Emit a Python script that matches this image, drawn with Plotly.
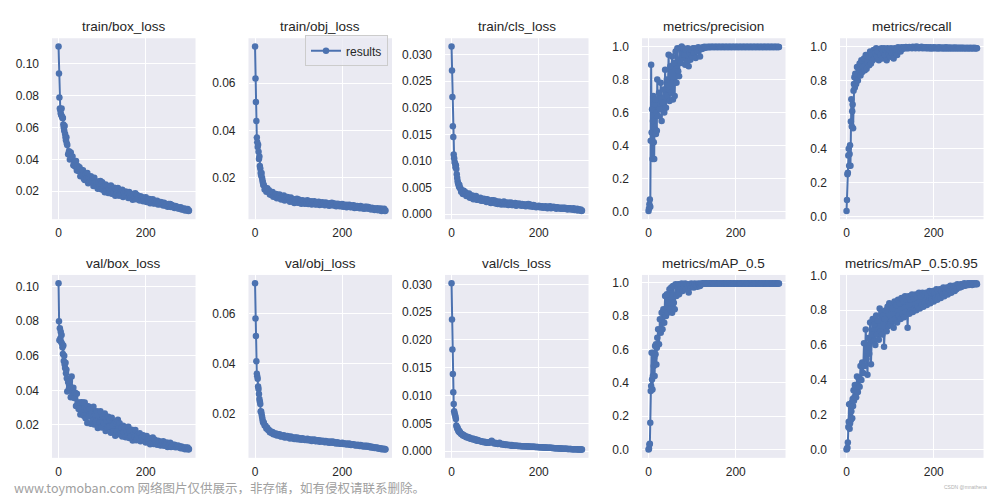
import plotly.graph_objects as go

# x values: training epochs (every epoch early, every 2nd epoch afterwards, plus the last one)
epochs = list(range(0, 20)) + list(range(20, 300, 2)) + [299]

titles = ["train/box_loss", "train/obj_loss", "train/cls_loss", "metrics/precision", "metrics/recall",
          "val/box_loss", "val/obj_loss", "val/cls_loss", "metrics/mAP_0.5", "metrics/mAP_0.5:0.95"]

train_box_loss = [
    0.111, 0.094, 0.079, 0.072, 0.071, 0.069, 0.068, 0.072, 0.067, 0.066, 0.066, 0.062, 0.060, 0.058, 0.061, 0.056, 0.054, 0.052, 0.054, 0.050,
    0.049, 0.0432, 0.0452, 0.040, 0.0444, 0.0404, 0.0418, 0.0363, 0.0386, 0.0355, 0.039, 0.0331, 0.0359, 0.0328, 0.0351, 0.0295, 0.0335, 0.0301, 0.0332, 0.0279,
    0.0271, 0.0305, 0.0282, 0.0315, 0.025, 0.0287, 0.026, 0.0294, 0.0259, 0.0283, 0.0233, 0.0285, 0.0255, 0.0232, 0.026, 0.0215, 0.0261, 0.0226, 0.0265, 0.0212,
    0.0256, 0.0209, 0.0235, 0.0194, 0.0242, 0.0212, 0.0233, 0.0189, 0.0218, 0.0196, 0.0236, 0.0185, 0.0213, 0.0192, 0.0222, 0.0172, 0.0212, 0.0189, 0.022, 0.0173,
    0.0174, 0.0201, 0.0185, 0.0209, 0.0164, 0.0191, 0.0172, 0.0199, 0.0173, 0.0191, 0.0157, 0.0195, 0.0174, 0.0159, 0.018, 0.0147, 0.0183, 0.0157, 0.0187, 0.015,
    0.0177, 0.0151, 0.0165, 0.0142, 0.0168, 0.0151, 0.0162, 0.0137, 0.0153, 0.014, 0.0162, 0.0133, 0.0149, 0.0137, 0.0152, 0.0125, 0.0147, 0.0132, 0.015, 0.0123,
    0.0124, 0.0138, 0.0128, 0.014, 0.0117, 0.0129, 0.0119, 0.0133, 0.0119, 0.0128, 0.011, 0.0128, 0.0117, 0.0109, 0.0118, 0.0102, 0.012, 0.0106, 0.012, 0.0101,
    0.0114, 0.0101, 0.0107, 0.0095, 0.0107, 0.0099, 0.0102, 0.0091, 0.0096, 0.009, 0.01, 0.0085, 0.0092, 0.0086, 0.0092, 0.0079, 0.0089, 0.0081, 0.0088, 0.0076, 0.0079,
]
train_obj_loss = [
    0.0755, 0.062, 0.052, 0.044, 0.037, 0.035, 0.033, 0.034, 0.031, 0.028, 0.029, 0.025, 0.024, 0.022, 0.021, 0.022, 0.020, 0.019, 0.018, 0.017,
    0.017, 0.0151, 0.0158, 0.0141, 0.0156, 0.0143, 0.0148, 0.013, 0.0138, 0.0128, 0.014, 0.012, 0.013, 0.0122, 0.0132, 0.0114, 0.0128, 0.0119, 0.013, 0.0113,
    0.0109, 0.0121, 0.0113, 0.0125, 0.0104, 0.0116, 0.0107, 0.0119, 0.0107, 0.0115, 0.0099, 0.0117, 0.0107, 0.01, 0.0109, 0.0094, 0.011, 0.0099, 0.0112, 0.0095,
    0.0108, 0.0095, 0.0102, 0.0091, 0.0105, 0.0096, 0.0103, 0.0091, 0.0099, 0.0093, 0.0105, 0.009, 0.0098, 0.0093, 0.0101, 0.0087, 0.0099, 0.0092, 0.0101, 0.0088,
    0.0087, 0.0097, 0.0091, 0.0099, 0.0085, 0.0093, 0.0087, 0.0097, 0.0088, 0.0094, 0.0084, 0.0096, 0.0089, 0.0085, 0.0092, 0.0082, 0.0093, 0.0085, 0.0095, 0.0084,
    0.0093, 0.0083, 0.0088, 0.008, 0.0091, 0.0084, 0.0089, 0.008, 0.0085, 0.0081, 0.009, 0.0078, 0.0085, 0.0081, 0.0086, 0.0076, 0.0085, 0.0079, 0.0086, 0.0077,
    0.0076, 0.0083, 0.0078, 0.0084, 0.0073, 0.008, 0.0074, 0.0081, 0.0075, 0.0079, 0.0071, 0.0081, 0.0075, 0.0072, 0.0077, 0.0069, 0.0078, 0.0072, 0.0078, 0.007,
    0.0077, 0.0069, 0.0073, 0.0066, 0.0074, 0.0069, 0.0072, 0.0064, 0.0069, 0.0065, 0.0072, 0.0063, 0.0069, 0.0064, 0.007, 0.006, 0.0068, 0.0063, 0.0069, 0.006, 0.0062,
]
train_cls_loss = [
    0.0315, 0.027, 0.022, 0.0165, 0.0145, 0.0112, 0.0105, 0.0098, 0.0095, 0.0088, 0.0092, 0.0085, 0.0075, 0.0068, 0.0062, 0.0058, 0.0056, 0.0052, 0.0055, 0.0049,
    0.0049, 0.0042, 0.0045, 0.0038, 0.0044, 0.0039, 0.0041, 0.0034, 0.0038, 0.0034, 0.0039, 0.0031, 0.0035, 0.0031, 0.0035, 0.0028, 0.0033, 0.003, 0.0034, 0.0027,
    0.0027, 0.003, 0.0027, 0.0031, 0.0025, 0.0028, 0.0025, 0.0029, 0.0025, 0.0028, 0.0023, 0.0028, 0.0025, 0.0023, 0.0025, 0.0021, 0.0026, 0.0022, 0.0026, 0.0021,
    0.0025, 0.002, 0.0023, 0.0019, 0.0024, 0.0021, 0.0023, 0.0018, 0.0022, 0.0019, 0.0024, 0.0018, 0.0021, 0.0019, 0.0022, 0.0017, 0.0021, 0.0019, 0.0022, 0.0017,
    0.0017, 0.002, 0.0018, 0.0021, 0.0016, 0.0019, 0.0017, 0.002, 0.0017, 0.0019, 0.0016, 0.0019, 0.0018, 0.0016, 0.0018, 0.0015, 0.0018, 0.0016, 0.0019, 0.0015,
    0.0018, 0.0015, 0.0016, 0.0014, 0.0017, 0.0015, 0.0016, 0.0013, 0.0015, 0.0014, 0.0016, 0.0013, 0.0015, 0.0013, 0.0015, 0.0012, 0.0014, 0.0013, 0.0015, 0.0012,
    0.0011, 0.0014, 0.0013, 0.0015, 0.0011, 0.0013, 0.0012, 0.0014, 0.0012, 0.0013, 0.001, 0.0013, 0.0012, 0.0011, 0.0012, 0.001, 0.0012, 0.001, 0.0012, 0.001,
    0.0012, 0.001, 0.0011, 0.0009, 0.0011, 0.001, 0.0011, 0.0009, 0.001, 0.0009, 0.0011, 0.0008, 0.0009, 0.0008, 0.001, 0.0007, 0.0009, 0.0008, 0.0009, 0.0006, 0.0007,
]
precision = [
    0.005, 0.02, 0.045, 0.075, 0.03, 0.43, 0.89, 0.48, 0.62, 0.32, 0.55, 0.70, 0.42, 0.32, 0.65, 0.50, 0.68, 0.47, 0.60, 0.49,
    0.80, 0.58, 0.72, 0.62, 0.78, 0.55, 0.66, 0.74, 0.60, 0.86, 0.63, 0.80, 0.70, 0.95, 0.67, 0.88, 0.72, 0.94, 0.68, 0.90,
    0.70, 0.97, 0.78, 0.99, 0.85, 0.82, 0.99, 0.90, 1.0, 0.93, 0.99, 0.95, 0.89, 0.98, 0.91, 0.99, 0.88, 0.96, 0.92, 0.98,
    0.94, 0.99, 0.96, 0.99, 0.93, 0.98, 0.97, 0.995, 0.98, 0.94, 0.99, 0.985, 0.995, 0.99, 0.998, 0.993, 0.997, 0.995, 0.999, 0.996,
    0.998, 0.996, 0.999, 0.997, 0.998, 0.995, 0.999, 0.997, 0.998, 0.996, 0.999, 0.997, 0.998, 0.996, 0.999, 0.997, 0.998, 0.996, 0.999, 0.997,
    0.998, 0.996, 0.999, 0.997, 0.998, 0.995, 0.999, 0.997, 0.998, 0.996, 0.999, 0.997, 0.998, 0.996, 0.999, 0.997, 0.998, 0.996, 0.999, 0.997,
    0.998, 0.996, 0.999, 0.997, 0.998, 0.995, 0.999, 0.997, 0.998, 0.996, 0.999, 0.997, 0.998, 0.996, 0.999, 0.997, 0.998, 0.996, 0.999, 0.997,
    0.998, 0.996, 0.999, 0.997, 0.998, 0.995, 0.999, 0.997, 0.998, 0.996, 0.999, 0.997, 0.998, 0.996, 0.999, 0.997, 0.998, 0.996, 0.999, 0.997, 0.997,
]
recall = [
    0.035, 0.10, 0.25, 0.26, 0.36, 0.40, 0.30, 0.37, 0.42, 0.30, 0.56, 0.69, 0.53, 0.62, 0.66, 0.52, 0.74, 0.78, 0.82, 0.76,
    0.84, 0.78, 0.88, 0.80, 0.86, 0.90, 0.83, 0.92, 0.85, 0.88, 0.93, 0.86, 0.95, 0.87, 0.91, 0.94, 0.89, 0.97, 0.90, 0.95,
    0.92, 0.98, 0.93, 0.96, 0.99, 0.94, 0.97, 0.92, 0.98, 0.95, 0.99, 0.93, 0.97, 0.99, 0.95, 0.98, 0.92, 0.99, 0.96, 0.98,
    0.94, 0.99, 0.96, 0.98, 0.93, 0.99, 0.97, 0.98, 0.95, 0.995, 0.98, 0.99, 0.97, 0.995, 0.985, 0.99, 0.995, 0.99, 0.997, 0.99,
    0.995, 0.99, 0.997, 0.992, 0.995, 0.99, 0.998, 0.993, 0.996, 0.99, 1.0, 0.993, 0.997, 0.99, 0.996, 0.992, 0.998, 0.99, 0.995, 0.991,
    0.996, 0.99, 0.995, 0.989, 0.994, 0.99, 0.996, 0.988, 0.993, 0.99, 0.995, 0.989, 0.994, 0.99, 0.993, 0.988, 0.995, 0.989, 0.993, 0.99,
    0.994, 0.988, 0.993, 0.989, 0.995, 0.988, 0.992, 0.99, 0.994, 0.988, 0.993, 0.989, 0.992, 0.988, 0.994, 0.989, 0.993, 0.988, 0.992, 0.989,
    0.993, 0.988, 0.992, 0.989, 0.993, 0.988, 0.991, 0.989, 0.992, 0.988, 0.991, 0.989, 0.992, 0.988, 0.991, 0.989, 0.992, 0.988, 0.991, 0.989, 0.99,
]
val_box_loss = [
    0.102, 0.080, 0.069, 0.076, 0.070, 0.074, 0.068, 0.072, 0.067, 0.065, 0.061, 0.066, 0.057, 0.060, 0.055, 0.053, 0.056, 0.050, 0.052, 0.047,
    0.0394, 0.0448, 0.0411, 0.0455, 0.036, 0.048, 0.0367, 0.0416, 0.0356, 0.0387, 0.031, 0.038, 0.033, 0.0293, 0.0328, 0.026, 0.0332, 0.0272, 0.033, 0.0253,
    0.033, 0.0239, 0.0292, 0.0212, 0.0309, 0.0251, 0.0293, 0.0207, 0.0266, 0.0224, 0.0305, 0.0203, 0.0262, 0.022, 0.0279, 0.0182, 0.0263, 0.0215, 0.028, 0.0188,
    0.0185, 0.0247, 0.021, 0.0267, 0.0165, 0.0227, 0.0185, 0.0247, 0.019, 0.0232, 0.0155, 0.0242, 0.0195, 0.0162, 0.021, 0.0137, 0.022, 0.0162, 0.023, 0.0147,
    0.021, 0.0152, 0.0185, 0.0134, 0.0195, 0.0158, 0.0184, 0.0129, 0.0166, 0.0139, 0.019, 0.0125, 0.0162, 0.0135, 0.0172, 0.011, 0.0161, 0.013, 0.0171, 0.0112,
    0.0117, 0.0144, 0.0127, 0.0152, 0.0106, 0.0133, 0.0114, 0.0141, 0.0114, 0.0133, 0.0098, 0.0136, 0.0115, 0.01, 0.012, 0.0088, 0.0123, 0.0097, 0.0127, 0.009,
    0.0116, 0.0093, 0.0106, 0.0085, 0.0109, 0.0094, 0.0104, 0.0082, 0.0097, 0.0086, 0.0106, 0.008, 0.0094, 0.0083, 0.0098, 0.0073, 0.0093, 0.0081, 0.0097, 0.0073,
    0.0076, 0.0085, 0.0079, 0.0086, 0.0071, 0.0079, 0.0072, 0.0081, 0.0071, 0.0076, 0.0065, 0.0076, 0.0069, 0.0064, 0.007, 0.0059, 0.007, 0.0061, 0.007, 0.0058, 0.0061,
]
val_obj_loss = [
    0.072, 0.058, 0.051, 0.041, 0.036, 0.035, 0.034, 0.031, 0.030, 0.028, 0.026, 0.025, 0.024, 0.021, 0.021, 0.020, 0.019, 0.018, 0.017, 0.0165,
    0.0166, 0.0155, 0.0154, 0.0143, 0.0146, 0.0137, 0.0137, 0.0128, 0.0131, 0.0125, 0.0129, 0.012, 0.0123, 0.0119, 0.0123, 0.0115, 0.012, 0.0116, 0.012, 0.0112,
    0.0111, 0.0115, 0.0112, 0.0116, 0.0107, 0.0112, 0.0108, 0.0113, 0.0108, 0.011, 0.0103, 0.0111, 0.0106, 0.0104, 0.0107, 0.0101, 0.0107, 0.0101, 0.0107, 0.01,
    0.0105, 0.01, 0.0103, 0.0098, 0.0104, 0.01, 0.0102, 0.0097, 0.01, 0.0097, 0.0102, 0.0096, 0.0099, 0.0096, 0.0099, 0.0093, 0.0098, 0.0095, 0.0099, 0.0093,
    0.0092, 0.0096, 0.0093, 0.0096, 0.009, 0.0094, 0.0091, 0.0094, 0.0091, 0.0093, 0.0088, 0.0093, 0.009, 0.0088, 0.0091, 0.0086, 0.009, 0.0087, 0.0091, 0.0086,
    0.009, 0.0085, 0.0087, 0.0083, 0.0088, 0.0084, 0.0086, 0.0082, 0.0084, 0.0082, 0.0086, 0.0081, 0.0083, 0.0081, 0.0083, 0.0079, 0.0082, 0.008, 0.0083, 0.0078,
    0.0077, 0.008, 0.0078, 0.008, 0.0076, 0.0077, 0.0075, 0.0078, 0.0075, 0.0077, 0.0073, 0.0077, 0.0074, 0.0072, 0.0074, 0.0071, 0.0074, 0.0071, 0.0074, 0.007,
    0.0073, 0.0069, 0.0071, 0.0067, 0.007, 0.0067, 0.0068, 0.0065, 0.0067, 0.0065, 0.0067, 0.0063, 0.0064, 0.0062, 0.0064, 0.006, 0.0062, 0.006, 0.0062, 0.0059, 0.006,
]
val_cls_loss = [
    0.0302, 0.0237, 0.0183, 0.0139, 0.0106, 0.0085, 0.0072, 0.0068, 0.0065, 0.0062, 0.0058, 0.0046, 0.0044, 0.0041, 0.0042, 0.0038, 0.0036, 0.0037, 0.0034, 0.0035,
    0.0033, 0.0031, 0.0031, 0.0028, 0.0029, 0.0027, 0.0027, 0.0025, 0.0026, 0.0024, 0.0025, 0.0023, 0.0023, 0.0022, 0.0023, 0.0021, 0.0022, 0.002, 0.0021, 0.0019,
    0.002, 0.0019, 0.0019, 0.0018, 0.0018, 0.0017, 0.0017, 0.0016, 0.0017, 0.0016, 0.0015, 0.0016, 0.0015, 0.0015, 0.0016, 0.0017, 0.0019, 0.0016, 0.0015, 0.0014,
    0.0015, 0.0014, 0.0014, 0.0013, 0.0014, 0.0015, 0.0013, 0.0013, 0.0012, 0.0013, 0.0012, 0.0012, 0.0011, 0.0012, 0.0011, 0.0011, 0.0011, 0.0011, 0.001, 0.0011,
    0.001, 0.001, 0.001, 0.00098, 0.00096, 0.00097, 0.00094, 0.00095, 0.00092, 0.00093, 0.0009, 0.0009, 0.00089, 0.00088, 0.00089, 0.00086, 0.00087, 0.00085, 0.00085, 0.00083,
    0.00082, 0.00082, 0.0008, 0.0008, 0.00079, 0.00078, 0.00077, 0.00077, 0.00075, 0.00075, 0.00073, 0.00072, 0.00071, 0.0007, 0.0007, 0.00068, 0.00067, 0.00066, 0.00065, 0.00064,
    0.00063, 0.00062, 0.00061, 0.0006, 0.0006, 0.00058, 0.00057, 0.00056, 0.00055, 0.00054, 0.00053, 0.00052, 0.00051, 0.0005, 0.00049, 0.00048, 0.00047, 0.00046, 0.00045, 0.00044,
    0.00043, 0.00042, 0.00042, 0.00041, 0.0004, 0.00039, 0.00039, 0.00038, 0.00037, 0.00036, 0.00036, 0.00035, 0.00034, 0.00034, 0.00033, 0.00032, 0.00032, 0.00031, 0.0003, 0.0003, 0.0003,
]
map_50 = [
    0.0, 0.005, 0.03, 0.035, 0.16, 0.35, 0.38, 0.58, 0.42, 0.36, 0.44, 0.58, 0.50, 0.55, 0.44, 0.62, 0.57, 0.63, 0.51, 0.61,
    0.67, 0.72, 0.63, 0.78, 0.70, 0.82, 0.72, 0.84, 0.76, 0.92, 0.80, 0.93, 0.82, 0.88, 0.96, 0.84, 0.97, 0.82, 0.98, 0.88,
    0.84, 0.99, 0.92, 0.97, 0.99, 0.93, 0.99, 0.96, 0.995, 0.95, 0.99, 0.97, 0.995, 0.96, 0.99, 0.98, 0.94, 0.99, 0.97, 0.995,
    0.98, 0.99, 0.97, 0.995, 0.985, 0.99, 0.975, 0.995, 0.99, 0.98, 0.995, 0.99, 0.996, 0.993, 0.995, 0.994, 0.996, 0.993, 0.995, 0.994,
    0.996, 0.993, 0.995, 0.994, 0.996, 0.993, 0.995, 0.994, 0.996, 0.993, 0.995, 0.994, 0.996, 0.993, 0.995, 0.994, 0.996, 0.993, 0.995, 0.994,
    0.996, 0.993, 0.995, 0.994, 0.996, 0.993, 0.995, 0.994, 0.996, 0.993, 0.995, 0.994, 0.996, 0.993, 0.995, 0.994, 0.996, 0.993, 0.995, 0.994,
    0.996, 0.993, 0.995, 0.994, 0.996, 0.993, 0.995, 0.994, 0.996, 0.993, 0.995, 0.994, 0.996, 0.993, 0.995, 0.994, 0.996, 0.993, 0.995, 0.994,
    0.996, 0.993, 0.995, 0.994, 0.996, 0.993, 0.995, 0.994, 0.996, 0.993, 0.995, 0.994, 0.996, 0.993, 0.995, 0.994, 0.996, 0.993, 0.995, 0.994, 0.995,
]
map_50_95 = [
    0.0, 0.005, 0.01, 0.04, 0.13, 0.16, 0.26, 0.12, 0.15, 0.26, 0.17, 0.22, 0.27, 0.18, 0.29, 0.25, 0.34, 0.28, 0.30, 0.37,
    0.35, 0.30, 0.42, 0.33, 0.41, 0.36, 0.48, 0.40, 0.50, 0.44, 0.61, 0.48, 0.69, 0.52, 0.43, 0.64, 0.55, 0.73, 0.49, 0.66,
    0.75, 0.62, 0.72, 0.60, 0.77, 0.66, 0.74, 0.63, 0.81, 0.68, 0.79, 0.66, 0.77, 0.59, 0.75, 0.80, 0.68, 0.82, 0.71, 0.84,
    0.72, 0.83, 0.74, 0.81, 0.70, 0.85, 0.75, 0.83, 0.73, 0.86, 0.77, 0.84, 0.75, 0.87, 0.78, 0.85, 0.76, 0.88, 0.79, 0.86,
    0.70, 0.88, 0.78, 0.86, 0.80, 0.89, 0.79, 0.87, 0.81, 0.89, 0.80, 0.88, 0.82, 0.90, 0.81, 0.88, 0.83, 0.90, 0.82, 0.89,
    0.84, 0.90, 0.83, 0.89, 0.85, 0.91, 0.84, 0.90, 0.86, 0.91, 0.85, 0.90, 0.87, 0.92, 0.86, 0.91, 0.88, 0.92, 0.87, 0.91,
    0.89, 0.93, 0.88, 0.92, 0.90, 0.93, 0.89, 0.93, 0.91, 0.94, 0.90, 0.93, 0.92, 0.94, 0.91, 0.94, 0.92, 0.95, 0.93, 0.94,
    0.93, 0.95, 0.935, 0.95, 0.94, 0.955, 0.94, 0.95, 0.945, 0.955, 0.945, 0.955, 0.95, 0.955, 0.945, 0.955, 0.95, 0.955, 0.95, 0.955, 0.95,
]

series = [train_box_loss, train_obj_loss, train_cls_loss, precision, recall,
          val_box_loss, val_obj_loss, val_cls_loss, map_50, map_50_95]
for s in series:
    assert len(s) == len(epochs), (len(s), len(epochs))

x_ticks = [0, 200]
loss_ticks = [0.02, 0.04, 0.06, 0.08, 0.10]
obj_ticks = [0.02, 0.04, 0.06]
cls_ticks = [0.0, 0.005, 0.010, 0.015, 0.020, 0.025, 0.030]
metric_ticks = [0.0, 0.2, 0.4, 0.6, 0.8, 1.0]
y_ticks = [loss_ticks, obj_ticks, cls_ticks, metric_ticks, metric_ticks,
           loss_ticks, obj_ticks, cls_ticks, metric_ticks, metric_ticks]
y_fmt = [".2f", ".2f", ".3f", ".1f", ".1f", ".2f", ".2f", ".3f", ".1f", ".1f"]

W, H = 1000, 500
col_left = [52, 248.5, 445, 642, 840]
col_w = 143.5
rows = [(33, 218), (275, 462)]
title_y = [21, 263.5]

BLUE = "#4C72B0"
TXT = "#262626"
FONT = "Liberation Sans, Arial, sans-serif"

fig = go.Figure()
layout = {}
annotations = []
for i, (name, vals) in enumerate(zip(titles, series)):
    r, c = divmod(i, 5)
    sfx = "" if i == 0 else str(i + 1)
    fig.add_trace(go.Scatter(
        x=epochs, y=vals, mode="lines+markers", name="results",
        showlegend=(i == 1),
        line=dict(color=BLUE, width=2),
        marker=dict(color=BLUE, size=6.5),
        xaxis="x" + sfx, yaxis="y" + sfx,
    ))
    x0 = col_left[c] / W
    x1 = (col_left[c] + col_w) / W
    top, bot = rows[r]
    y0 = 1 - bot / H
    y1 = 1 - top / H
    lo, hi = min(vals), max(vals)
    pad = 0.05 * (hi - lo)
    common = dict(showline=False, zeroline=False, ticks="", gridcolor="white", gridwidth=1.2,
                  tickfont=dict(family=FONT, size=12, color=TXT), fixedrange=True)
    layout["xaxis" + sfx] = dict(domain=[x0, x1], range=[-15, 314], tickvals=x_ticks,
                                 anchor="y" + sfx, ticklabelstandoff=5, **common)
    layout["yaxis" + sfx] = dict(domain=[y0, y1], range=[lo - pad, hi + pad], tickvals=y_ticks[i],
                                 tickformat=y_fmt[i], anchor="x" + sfx, ticklabelstandoff=12, **common)
    annotations.append(dict(text=name, x=(x0 + x1) / 2, y=1 - title_y[r] / H, xref="paper", yref="paper",
                            xanchor="center", yanchor="middle", showarrow=False,
                            font=dict(family=FONT, size=13.5, color=TXT)))

annotations.append(dict(text="www.toymoban.com 网络图片仅供展示，非存储，如有侵权请联系删除。",
                        x=12 / W, y=1 - 492 / H, xref="paper", yref="paper", xanchor="left", yanchor="middle",
                        showarrow=False, font=dict(family="Noto Sans CJK SC", size=12.5, color="#a0a0a0")))
annotations.append(dict(text="CSDN @mnathena", x=965 / W, y=1 - 492 / H, xref="paper", yref="paper",
                        xanchor="center", yanchor="middle", showarrow=False,
                        font=dict(family=FONT, size=5, color="#b0b0b0")))

fig.update_layout(
    width=W, height=H, margin=dict(l=0, r=0, t=0, b=0),
    paper_bgcolor="white", plot_bgcolor="#EAEAF2",
    showlegend=True,
    legend=dict(x=388 / W, y=1 - 30 / H, xanchor="right", yanchor="top",
                bgcolor="rgba(234,234,242,0.8)", bordercolor="#CCCCCC", borderwidth=1,
                font=dict(family=FONT, size=12, color=TXT), itemwidth=30,
                tracegroupgap=0),
    annotations=annotations,
    **layout,
)

fig.write_html("out.html", config={"displayModeBar": False},
               post_script="document.body.style.margin='0';")
